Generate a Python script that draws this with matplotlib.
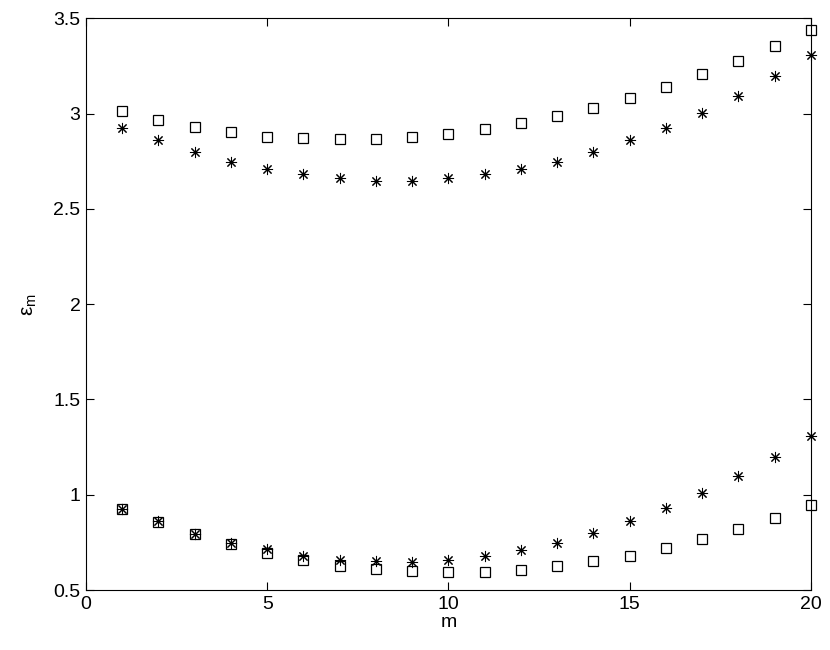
import matplotlib
matplotlib.use('Agg')
import matplotlib.pyplot as plt
import numpy as np

m = np.arange(1, 21)

# upper branch
upper_sq = [3.012, 2.967, 2.930, 2.903, 2.880, 2.870, 2.865, 2.866, 2.875, 2.892,
            2.918, 2.950, 2.986, 3.031, 3.083, 3.142, 3.207, 3.276, 3.354, 3.437]
upper_star = [2.925, 2.860, 2.797, 2.748, 2.710, 2.682, 2.660, 2.649, 2.649, 2.660,
              2.682, 2.710, 2.748, 2.797, 2.860, 2.925, 3.005, 3.095, 3.196, 3.307]

# lower branch
lower_sq = [0.927, 0.857, 0.793, 0.742, 0.693, 0.655, 0.627, 0.610, 0.598, 0.594,
            0.596, 0.606, 0.625, 0.650, 0.681, 0.721, 0.767, 0.819, 0.880, 0.944]
lower_star = [0.927, 0.861, 0.796, 0.746, 0.713, 0.681, 0.660, 0.652, 0.648, 0.660,
              0.681, 0.711, 0.749, 0.798, 0.861, 0.929, 1.009, 1.098, 1.199, 1.307]

plt.rcParams['font.family'] = ['Liberation Sans', 'DejaVu Sans']
plt.rcParams['mathtext.default'] = 'regular'

fig = plt.figure(figsize=(8.3, 6.5), dpi=100)
ax = fig.add_axes([0.1036, 0.0923, 0.8735, 0.8794])

sq_kw = dict(linestyle='none', marker='s', ms=6.5, mfc='none', mec='black', mew=0.9, clip_on=False)
st_kw = dict(linestyle='none', marker=(8, 2, 0), ms=8, mec='black', mew=0.75, clip_on=False)

ax.plot(m, upper_sq, **sq_kw)
ax.plot(m, lower_sq, **sq_kw)
ax.plot(m, upper_star, **st_kw)
ax.plot(m, lower_star, **st_kw)

ax.set_xlim(0, 20)
ax.set_ylim(0.5, 3.5)
ax.set_xticks([0, 5, 10, 15, 20])
ax.set_yticks([0.5, 1, 1.5, 2, 2.5, 3, 3.5])
ax.set_yticklabels(['0.5', '1', '1.5', '2', '2.5', '3', '3.5'])
ax.tick_params(direction='in', top=True, right=True, length=6, width=0.8,
               labelsize=14, pad=4)
for s in ax.spines.values():
    s.set_linewidth(0.8)

ax.set_xlabel('m', fontsize=14, labelpad=1)
ax.set_ylabel('$ε_m$', fontsize=15, labelpad=10)

fig.savefig('out.png', dpi=100)
